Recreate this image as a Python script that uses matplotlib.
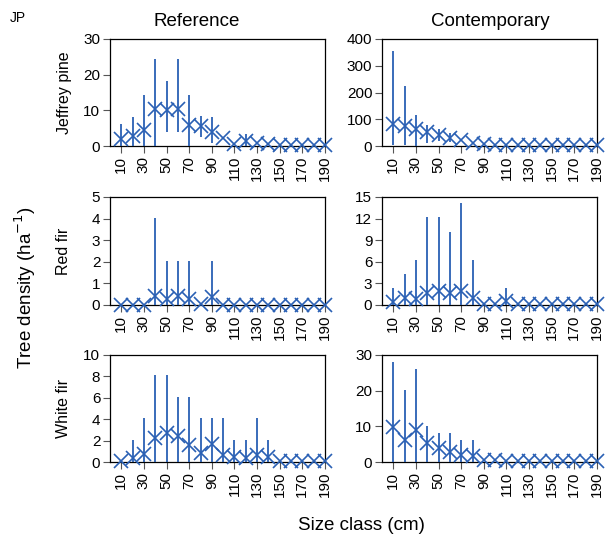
import matplotlib
matplotlib.use("Agg")
import matplotlib.pyplot as plt
import numpy as np

plt.rcParams['font.family'] = ['Liberation Sans', 'DejaVu Sans']

size_classes = [10, 20, 30, 40, 50, 60, 70, 80, 90, 100,
                110, 120, 130, 140, 150, 160, 170, 180, 190]
tick_positions = [10, 30, 50, 70, 90, 110, 130, 150, 170, 190]
tick_labels = ["10", "30", "50", "70", "90", "110", "130", "150", "170", "190"]

N = None
# Jeffrey pine - Reference
jp_ref_mean = [2.1, 2.7, 4.6, 10.3, 10.0, 10.3, 5.8, 5.6, 4.0, 2.2,
               0.7, 1.3, 0.8, 0.5, 0.2, 0.2, 0.2, 0.2, 0.2]
jp_ref_lo = [0, 0, 0, 0, 3.9, 3.9, 0, 2.5, 0.8, N, N, 0, N, N, N, N, N, N, N]
jp_ref_hi = [6.3, 8.2, 14.2, 24.3, 18.2, 24.3, 14.2, 8.5, 8.0, N, N, 3.5, N, N, N, N, N, N, N]
# Jeffrey pine - Contemporary
jp_con_mean = [82, 74, 62, 52, 40, 31, 22, 10, 6, 3,
               2, 2, 2, 2, 2, 2, 2, 2, 2]
jp_con_lo = [5, 5, 0, 12, 20, 15, N, N, N, N, N, N, N, N, N, N, N, N, N]
jp_con_hi = [355, 224, 117, 80, 62, 50, N, N, N, N, N, N, N, N, N, N, N, N, N]
# Red fir - Reference
rf_ref_mean = [0, 0, 0, 0.42, 0.3, 0.42, 0.3, 0.05, 0.35, 0,
               0, 0, 0, 0, 0, 0, 0, 0, 0]
rf_ref_lo = [N, N, N, 0, 0, 0, 0, N, 0, N, N, N, N, N, N, N, N, N, N]
rf_ref_hi = [N, N, N, 4.05, 2.05, 2.05, 2.05, N, 2.05, N, N, N, N, N, N, N, N, N, N]
# Red fir - Contemporary
rf_con_mean = [0.45, 1.0, 0.9, 1.7, 2.0, 1.6, 2.0, 1.0, 0.1, 0.1,
               0.5, 0.1, 0.1, 0.1, 0.1, 0.1, 0.1, 0.1, 0.1]
rf_con_lo = [0, 0, 0, 0, 0, 0, 0, 0, N, N, 0, N, N, N, N, N, N, N, N]
rf_con_hi = [2.3, 4.3, 6.2, 12.2, 12.2, 10.2, 14.2, 6.2, N, N, 2.3, N, N, N, N, N, N, N, N]
# White fir - Reference
wf_ref_mean = [0.1, 0.4, 0.75, 2.2, 2.75, 2.4, 1.6, 0.8, 1.7, 0.65,
               0.5, 0.35, 0.65, 0.5, 0.1, 0.1, 0.1, 0.1, 0.1]
wf_ref_lo = [N, 0, 0, 0, 0, 0, 0, 0, 0, 0, 0, 0, 0, 0, N, N, N, N, N]
wf_ref_hi = [N, 2.1, 4.1, 8.1, 8.1, 6.1, 6.1, 4.1, 4.1, 4.1, 2.1, 2.1, 4.1, 2.1, N, N, N, N, N]
# White fir - Contemporary
wf_con_mean = [9.9, 6.1, 8.9, 5.4, 3.8, 2.8, 2.1, 1.7, 0.6, 0.5,
               0.4, 0.3, 0.3, 0.2, 0.2, 0.2, 0.2, 0.2, 0.2]
wf_con_lo = [0, 0, 0, 0, 0, 0, 0, 0, N, N, N, N, N, N, N, N, N, N, N]
wf_con_hi = [28.1, 20.2, 26.2, 10.1, 8.0, 8.0, 6.1, 6.1, N, N, N, N, N, N, N, N, N, N, N]

col_titles = ["Reference", "Contemporary"]
row_labels = ["Jeffrey pine", "Red fir", "White fir"]
yticks_list = [
    ([0, 10, 20, 30], [0, 100, 200, 300, 400]),
    ([0, 1, 2, 3, 4, 5], [0, 3, 6, 9, 12, 15]),
    ([0, 2, 4, 6, 8, 10], [0, 10, 20, 30]),
]
data = [
    [(jp_ref_mean, jp_ref_lo, jp_ref_hi), (jp_con_mean, jp_con_lo, jp_con_hi)],
    [(rf_ref_mean, rf_ref_lo, rf_ref_hi), (rf_con_mean, rf_con_lo, rf_con_hi)],
    [(wf_ref_mean, wf_ref_lo, wf_ref_hi), (wf_con_mean, wf_con_lo, wf_con_hi)],
]

W, H = 605, 540
fig = plt.figure(figsize=(W / 100, H / 100), dpi=100)
color = "#2a60b4"

col_x = [(110, 325), (382, 597)]
row_y = [(39, 146), (197, 305), (355, 462)]

for r in range(3):
    for c in range(2):
        x0, x1 = col_x[c]
        t, b = row_y[r]
        ax = fig.add_axes([x0 / W, 1 - b / H, (x1 - x0) / W, (b - t) / H])
        mean, lo, hi = data[r][c]
        xs = [s for s, l in zip(size_classes, lo) if l is not None]
        los = [l for l in lo if l is not None]
        his = [h for h in hi if h is not None]
        ax.vlines(xs, los, his, color=color, lw=1.3, clip_on=False, zorder=3)
        ax.plot(size_classes, mean, linestyle='none', marker='x', ms=9.5,
                mew=1.2, color=color, clip_on=False, zorder=4)
        ax.set_xlim(0, 190)
        yt = yticks_list[r][c]
        ax.set_ylim(yt[0], yt[-1])
        ax.set_yticks(yt)
        ax.set_xticks(tick_positions)
        ax.set_xticklabels(tick_labels, rotation=90)
        ax.tick_params(axis='both', direction='out', length=5, width=0.8,
                       labelsize=11, pad=2, color='#555555')
        for sp in ax.spines.values():
            sp.set_linewidth(0.9)
            sp.set_color('black')
        if r == 0:
            pass
    # row label
    t, b = row_y[r]
    fig.text(64 / W, 1 - ((t + b) / 2) / H, row_labels[r], rotation=90,
             ha='center', va='center', fontsize=11.5)

fig.text(197 / W, 1 - 21 / H, col_titles[0], ha='center', va='center', fontsize=13.5)
fig.text(490 / W, 1 - 21 / H, col_titles[1], ha='center', va='center', fontsize=13.5)
fig.text(10 / W, 1 - 18 / H, "JP", ha='left', va='center', fontsize=10)
fig.text(25 / W, 1 - 288 / H, "Tree density (ha$^{-1}$)", rotation=90,
         ha='center', va='center', fontsize=13.5)
fig.text(361 / W, 1 - 526 / H, "Size class (cm)", ha='center', va='center',
         fontsize=13.5)

fig.savefig("out.png", dpi=100)
